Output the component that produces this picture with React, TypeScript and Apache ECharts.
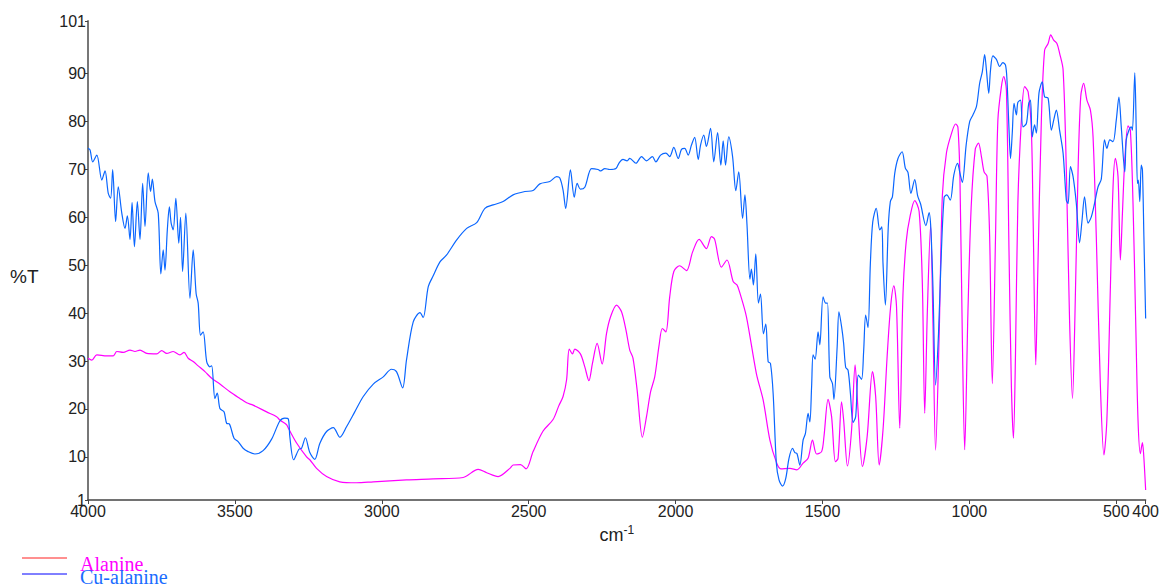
import React, { useEffect, useRef } from "react";
import * as echarts from "echarts";

// Wavenumber (cm-1) / %T pairs
const alanineWave = [4000,3987,3970,3936,3914,3902,3880,3857,3840,3823,3800,3766,3749,3732,3710,3687,3673,3659,3642,3625,3602,3579,3551,3517,3483,3460,3438,3392,3358,3347,3324,3318,3290,3256,3245,3222,3188,3143,3086,3029,2916,2825,2723,2672,2643,2604,2564,2553,2528,2509,2485,2451,2417,2398,2383,2371,2362,2351,2343,2324,2309,2295,2283,2267,2250,2235,2221,2201,2184,2169,2156,2145,2131,2113,2099,2085,2071,2056,2045,2033,2020,2006,1986,1963,1942,1920,1895,1878,1867,1844,1825,1804,1791,1781,1759,1725,1702,1679,1657,1642,1611,1587,1566,1549,1534,1520,1503,1495,1481,1469,1456,1447,1435,1428,1415,1401,1389,1379,1364,1348,1330,1319,1307,1294,1280,1268,1257,1248,1237,1226,1215,1201,1186,1171,1160,1152,1143,1132,1124,1115,1103,1092,1078,1061,1047,1039,1032,1024,1016,1005,994,980,969,959,950,940,931,922,911,903,891,883,874,865,857,850,843,835,823,812,800,789,783,774,767,755,744,732,723,713,702,693,681,670,659,649,641,630,621,611,600,588,579,568,554,542,532,520,511,503,494,486,479,471,460,452,443,434,426,418,411,407,400];
const alanineT = [30.6,30.2,31.3,31.1,31.1,32.0,31.8,32.3,32.0,32.3,31.6,31.5,32.2,31.6,32.0,31.3,31.8,30.6,29.9,29.0,27.8,26.4,25.2,23.6,22.2,21.3,20.8,19.4,18.4,17.7,16.7,16.0,12.9,10.0,9.4,7.6,5.9,4.8,4.6,4.8,5.2,5.4,5.7,7.4,6.7,5.9,7.6,8.3,8.4,7.5,11.1,15.4,17.8,20.6,22.6,26.1,32.5,31.5,32.5,31.5,28.8,25.9,29.5,33.7,29.4,35.8,39.3,41.7,40.3,36.5,32.3,30.6,24.0,14.1,18.4,23.6,26.7,33.4,36.8,36.1,43.4,48.7,49.9,48.9,52.8,55.4,53.5,56.0,55.4,49.6,51.1,46.6,45.9,44.2,39.3,27.4,21.9,13.5,8.9,7.5,7.6,7.3,8.7,9.7,13.5,10.6,11.1,14.2,22.0,18.4,9.0,9.7,21.5,17.7,8.1,15.6,29.2,19.8,8.0,14.2,27.8,22.6,8.3,15.6,30.9,41.4,45.7,41.4,16.0,44.0,55.0,60.5,63.5,61.2,46.0,19.1,40.5,58.4,38.0,11.4,35.0,64.5,73.5,77.5,79.5,78.8,67.8,35.0,11.5,40.0,62.0,74.2,75.5,72.7,69.5,68.6,56.0,25.3,56.0,80.3,87.3,89.4,86.6,52.5,24.7,13.9,31.6,62.9,80.3,87.3,86.2,78.2,59.5,29.2,49.0,80.3,94.9,96.3,98.1,97.0,96.3,94.3,90.8,69.9,38.6,22.2,38.6,69.9,85.2,88.0,84.5,82.4,76.8,56.0,24.7,10.4,17.7,45.5,66.4,72.3,68.5,51.1,60.9,72.0,79.1,78.2,62.9,38.6,17.7,10.7,13.0,10.7,3.1];

const cuWave = [4000,3993,3984,3970,3953,3942,3931,3923,3916,3906,3897,3885,3874,3866,3857,3850,3842,3832,3823,3814,3806,3795,3787,3781,3772,3761,3752,3744,3738,3730,3723,3717,3710,3701,3691,3685,3678,3667,3653,3642,3632,3625,3617,3608,3596,3585,3579,3568,3560,3551,3537,3528,3519,3503,3489,3472,3455,3432,3404,3375,3347,3330,3318,3313,3300,3282,3273,3260,3245,3228,3211,3188,3165,3143,3120,3092,3063,3029,2995,2967,2950,2929,2916,2893,2870,2859,2842,2825,2802,2780,2745,2711,2677,2649,2621,2587,2553,2513,2485,2462,2428,2405,2394,2383,2374,2358,2345,2335,2324,2309,2286,2264,2255,2241,2224,2203,2192,2179,2165,2156,2135,2116,2099,2079,2067,2051,2033,2020,2006,1991,1980,1969,1957,1946,1935,1923,1915,1904,1895,1881,1870,1857,1846,1838,1830,1819,1806,1795,1785,1772,1764,1757,1747,1742,1735,1727,1718,1711,1701,1693,1685,1677,1668,1657,1648,1636,1625,1614,1602,1594,1587,1577,1566,1558,1549,1543,1537,1532,1525,1515,1509,1498,1489,1483,1475,1466,1461,1450,1444,1435,1428,1421,1413,1405,1396,1387,1378,1367,1360,1353,1345,1337,1329,1317,1305,1298,1294,1286,1276,1269,1262,1254,1243,1229,1218,1209,1199,1186,1176,1166,1148,1137,1131,1124,1115,1105,1097,1086,1077,1065,1053,1040,1033,1024,1011,999,988,976,965,956,948,942,934,928,920,908,897,886,877,872,865,860,854,848,840,835,826,818,806,798,792,786,778,772,763,752,744,732,721,713,704,693,681,670,664,656,647,636,625,617,608,596,585,574,562,551,540,532,522,511,500,491,483,471,466,457,449,445,437,432,428,425,420,415,411,406,400];
const cuT = [74.4,74.1,71.6,73.0,67.8,69.7,65.0,64.0,70.0,59.1,66.4,60.9,57.7,60.3,55.4,63.1,53.9,63.3,55.4,67.1,58.1,69.3,65.4,68.0,63.3,60.9,48.2,53.2,49.0,57.4,62.2,58.8,57.4,64.0,54.6,60.0,48.7,60.9,43.1,53.2,44.1,42.1,35.4,36.1,29.9,28.8,29.0,22.2,23.3,20.1,19.4,17.0,16.9,13.9,13.2,11.8,11.1,10.6,11.3,13.7,17.5,18.1,17.9,14.2,9.4,11.6,11.8,14.0,10.9,9.5,12.8,15.3,16.1,14.1,16.3,19.4,22.6,25.2,26.7,28.3,27.8,24.4,30.2,38.2,40.1,39.1,45.5,47.8,50.7,52.1,55.3,57.7,58.9,61.9,62.6,63.3,64.7,65.4,65.6,67.0,67.5,68.5,68.2,65.7,61.9,69.9,64.2,67.1,65.9,66.3,70.2,70.0,69.7,70.2,70.0,70.2,71.4,72.1,71.8,72.3,71.3,72.7,71.8,72.7,71.6,73.0,73.4,72.7,74.6,72.3,74.2,74.4,73.0,75.1,76.7,72.1,75.1,77.2,74.8,78.6,71.6,77.7,70.9,76.0,70.9,76.8,72.7,65.6,69.5,59.8,64.7,58.5,47.1,49.2,45.9,52.4,42.1,44.0,35.7,37.7,29.9,29.5,23.3,8.7,5.2,3.9,5.5,9.7,11.8,10.9,10.7,8.3,13.5,14.9,19.1,17.3,24.7,31.3,30.4,36.1,33.4,43.4,42.1,42.1,26.7,25.3,22.0,33.0,40.3,37.2,33.7,28.7,28.1,23.3,17.2,18.4,27.1,26.2,31.9,39.6,37.0,50.4,59.0,61.9,57.4,58.0,50.4,41.7,58.1,63.3,64.3,69.2,72.3,73.7,70.3,69.4,65.0,67.9,64.5,62.8,58.3,61.0,57.5,45.5,25.0,35.8,50.0,64.2,64.7,63.6,68.8,71.3,69.5,67.3,75.1,80.0,81.4,83.1,88.0,90.4,94.0,90.8,85.9,90.8,93.7,93.0,91.5,92.3,91.8,88.7,78.2,72.3,77.6,83.8,81.4,84.0,84.5,78.9,79.6,83.8,84.5,76.8,79.3,77.6,86.0,88.3,85.2,84.9,78.2,80.3,82.4,78.2,73.4,63.6,62.9,70.6,68.5,62.9,54.7,59.1,64.3,58.8,60.1,62.9,66.4,68.0,76.2,74.4,76.2,75.8,80.3,85.1,78.9,69.5,76.2,78.2,78.9,78.2,90.2,78.2,67.1,67.8,63.3,70.9,69.9,56.0,38.9];

const xTicks = [400, 500, 1000, 1500, 2000, 2500, 3000, 3500, 4000];
const yTicks = [1, 10, 20, 30, 40, 50, 60, 70, 80, 90, 101];
const seriesNames = ["Alanine", "Cu-alanine"];

const zip = (a: number[], b: number[]) => a.map((v, i) => [v, b[i]]);

export default function App() {
  const ref = useRef<HTMLDivElement>(null);
  useEffect(() => {
    const chart = echarts.init(ref.current!, null, { renderer: "svg" });
    const sans = "Liberation Sans, Arial, sans-serif";
    const labelStyle = { fontFamily: sans, fontSize: 16, color: "#222" };
    chart.setOption({
      animation: false,
      backgroundColor: "#fff",
      grid: { left: 88, right: 16, top: 21, bottom: 87, containLabel: false },
      xAxis: {
        type: "value",
        inverse: true,
        min: 400,
        max: 4000,
        splitLine: { show: false },
        axisLine: { lineStyle: { color: "#444", width: 1.5 } },
        axisTick: { show: true, length: 4, customValues: xTicks, lineStyle: { color: "#444" } },
        axisLabel: { ...labelStyle, margin: 3, customValues: xTicks, showMinLabel: true, showMaxLabel: true, formatter: (v: number) => String(v) },
        name: "cm{sup|-1}",
        nameLocation: "middle",
        nameGap: 24,
        nameTextStyle: {
          fontFamily: sans,
          fontSize: 18,
          color: "#222",
          rich: { sup: { fontSize: 12, verticalAlign: "top", padding: [0, 0, 10, 0], color: "#222", fontFamily: sans } },
        },
      },
      yAxis: {
        type: "value",
        min: 1,
        max: 101,
        splitLine: { show: false },
        axisLine: { show: true, lineStyle: { color: "#777", width: 2 } },
        axisTick: { show: true, length: 3, customValues: yTicks, lineStyle: { color: "#444" } },
        axisLabel: { ...labelStyle, margin: 2, customValues: yTicks, showMinLabel: true, showMaxLabel: true, formatter: (v: number) => String(v) },
      },
      series: [
        {
          name: seriesNames[0],
          type: "line",
          data: zip(alanineWave, alanineT),
          showSymbol: false,
          smooth: 0.3,
          lineStyle: { color: "#ff00ff", width: 1.2 },
          z: 2,
        },
        {
          name: seriesNames[1],
          type: "line",
          data: zip(cuWave, cuT),
          showSymbol: false,
          smooth: 0.3,
          lineStyle: { color: "#0a66ff", width: 1.2 },
          z: 3,
        },
      ],
      graphic: [
        { type: "text", x: 10, y: 276, style: { text: "%T", fill: "#222", font: "19px 'Liberation Sans', Arial, sans-serif", textVerticalAlign: "middle" } },
        { type: "line", shape: { x1: 22, y1: 558, x2: 67, y2: 558 }, style: { stroke: "#ff2020", lineWidth: 1 } },
        { type: "line", shape: { x1: 22, y1: 574, x2: 67, y2: 574 }, style: { stroke: "#0000ff", lineWidth: 1 } },
        { type: "text", x: 80, y: 564, style: { text: seriesNames[0], fill: "#ff00ff", font: "20px 'Liberation Serif', 'Times New Roman', serif", textVerticalAlign: "middle" } },
        { type: "text", x: 80, y: 577, style: { text: seriesNames[1], fill: "#1a6cff", font: "20px 'Liberation Serif', 'Times New Roman', serif", textVerticalAlign: "middle" } },
      ],
    });
    return () => chart.dispose();
  }, []);
  return <div ref={ref} style={{ width: 1162, height: 587, position: "fixed", left: 0, top: 0 }} />;
}
